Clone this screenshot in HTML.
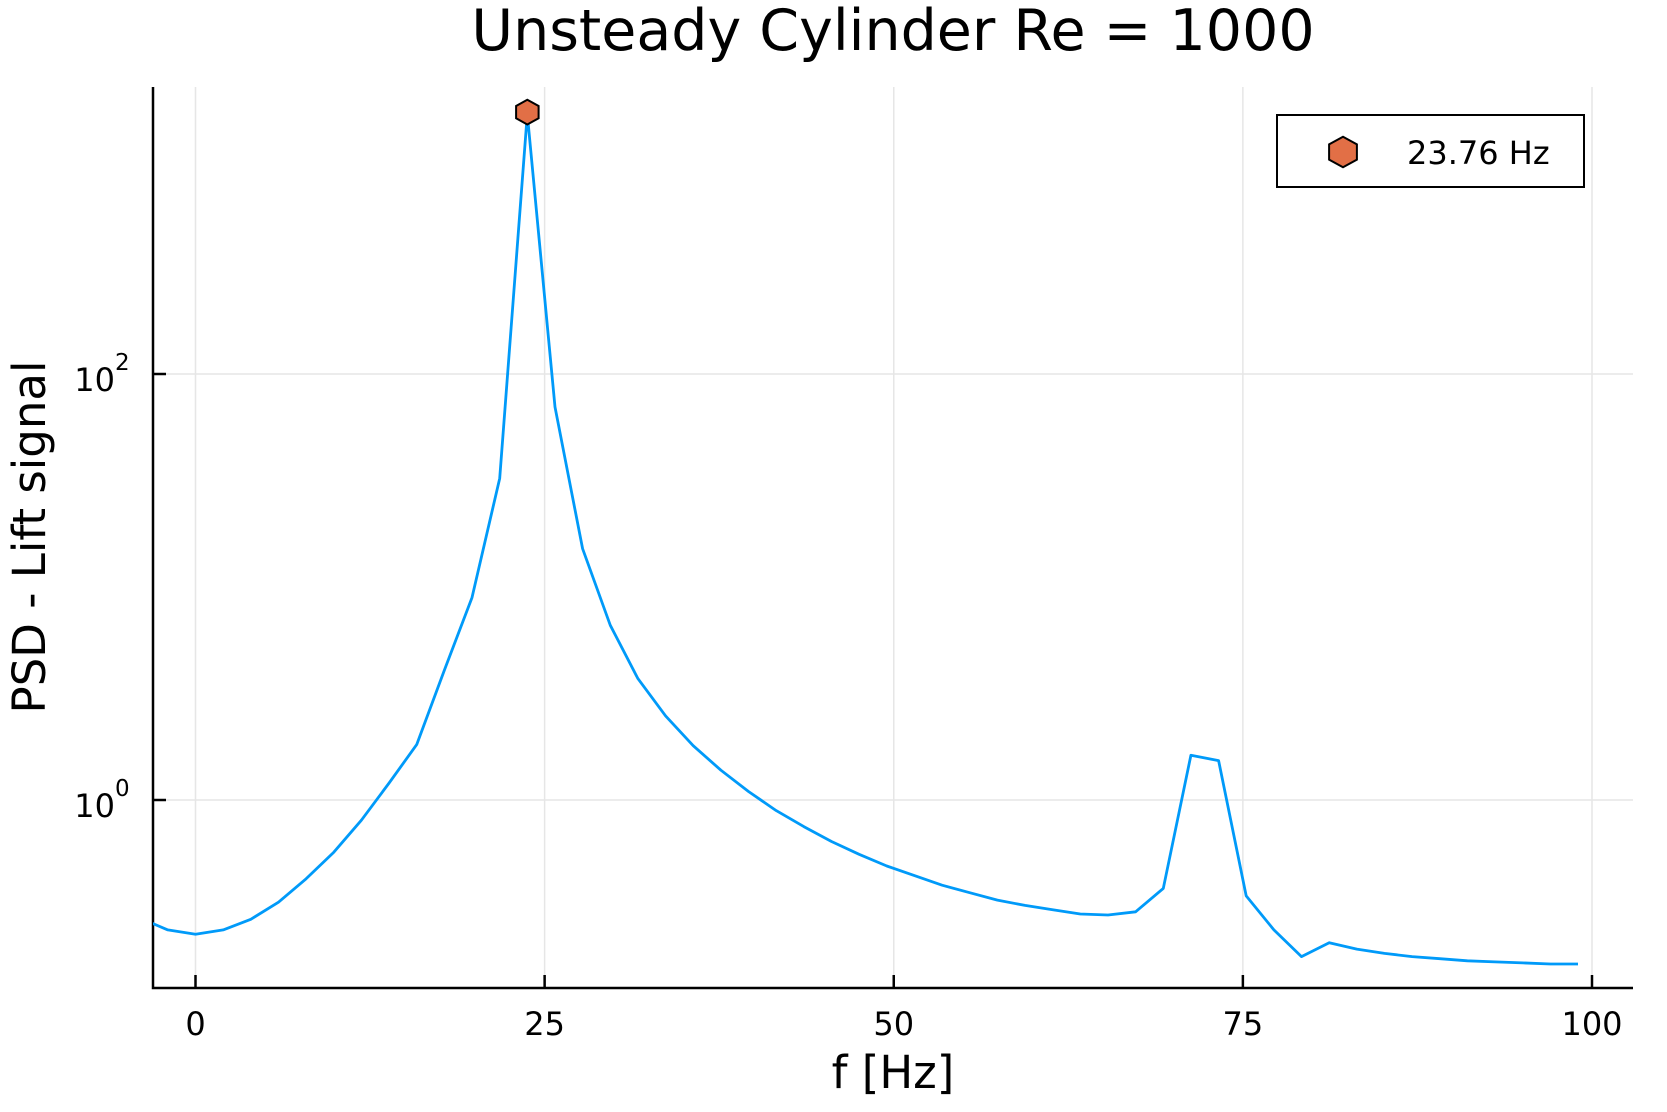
<!DOCTYPE html>
<html><head><meta charset="utf-8"><style>
html,body{margin:0;padding:0;background:#fff}
svg{display:block;font-family:"DejaVu Sans","Liberation Sans",sans-serif}
</style></head><body>
<svg id="chart" width="1667" height="1112" viewBox="0 0 1667 1112">
<text x="893" y="50" font-size="57" text-anchor="middle">Unsteady Cylinder Re = 1000</text>
<g id="grid"></g>
<g id="axes"></g>
<g id="series"></g>
<text x="893" y="1088" font-size="45" text-anchor="middle">f [Hz]</text>
<text transform="translate(45,537) rotate(-90)" font-size="45" text-anchor="middle">PSD - Lift signal</text>
<g>
<rect x="1277" y="115" width="307" height="72" fill="#fff" stroke="#000" stroke-width="2"/>
<polygon id="legmark" fill="#e26f46" stroke="#000" stroke-width="2"/>
<text x="1407" y="164" font-size="32">23.76 Hz</text>
</g>
</svg>
<script>
const freqStep = 1.98;
const kIndex = [-2,-1,0,1,2,3,4,5,6,7,8,9,10,11,12,13,14,15,16,17,18,19,20,21,22,23,24,25,26,27,28,29,30,31,32,33,34,35,36,37,38,39,40,41,42,43,44,45,46,47,48,49,50];
const log10Psd = [-0.555,-0.61,-0.63,-0.61,-0.56,-0.48,-0.37,-0.245,-0.095,0.08,0.26,0.61,0.95,1.51,3.22,1.845,1.18,0.82,0.57,0.395,0.255,0.14,0.04,-0.05,-0.125,-0.195,-0.255,-0.31,-0.355,-0.40,-0.435,-0.47,-0.495,-0.515,-0.535,-0.54,-0.525,-0.415,0.21,0.185,-0.45,-0.61,-0.735,-0.67,-0.70,-0.72,-0.735,-0.745,-0.755,-0.76,-0.765,-0.77,-0.77];
const peakFreq = [23.76];
const peakLog = [3.22];
const xTicks = [0,25,50,75,100];
const yTickExp = [0,2];

const NS="http://www.w3.org/2000/svg";
const L=153,R=1633,T=87,B=988;
const xs=f=>195.5+f*13.965;
const ys=lg=>800-lg*213;
function mk(tag,attrs,parent){const e=document.createElementNS(NS,tag);for(const k in attrs)e.setAttribute(k,attrs[k]);parent.appendChild(e);return e;}
const grid=document.getElementById('grid'),axes=document.getElementById('axes'),series=document.getElementById('series');
xTicks.forEach(t=>{
  const g=mk('line',{x1:xs(t),x2:xs(t),y1:T,y2:B,stroke:'#e6e6e6','stroke-width':1.5},grid);
  
  
  const tk=mk('line',{x1:xs(t),x2:xs(t),y1:B,y2:B-13,stroke:'#000','stroke-width':2.5},axes);
  
  
  const tx=mk('text',{x:xs(t),y:1035,'font-size':32,'text-anchor':'middle'},axes);
  tx.textContent=t;
  
  
});
yTickExp.forEach(e=>{
  const y=ys(e);
  const g=mk('line',{x1:L,x2:R,y1:y,y2:y,stroke:'#e6e6e6','stroke-width':1.5},grid);
  
  
  const tk=mk('line',{x1:L,x2:L+13,y1:y,y2:y,stroke:'#000','stroke-width':2.5},axes);
  
  
  const tx=mk('text',{x:115,y:y+17,'font-size':32,'text-anchor':'end'},axes);
  tx.textContent='10';
  
  
  const sp=mk('text',{x:115,y:y-4,'font-size':23},axes);
  sp.textContent=e;
  
  
});
const ax=mk('path',{d:`M${L},${T}V${B}H${R}`,fill:'none',stroke:'#000','stroke-width':2.5},axes);


const cp=mk('clipPath',{id:'clip'},series);mk('rect',{x:L,y:T-40,width:R-L,height:B-T+40},cp);
const pts=kIndex.map((k,i)=>xs(k*freqStep).toFixed(1)+','+ys(log10Psd[i]).toFixed(1)).join(' ');
const line=mk('polyline',{points:pts,fill:'none',stroke:'#009af9','stroke-width':2.8,'stroke-linejoin':'round','clip-path':'url(#clip)'},series);


function hex(cx,cy,r){let p=[];for(let i=0;i<6;i++){const a=Math.PI/3*i-Math.PI/2;p.push((cx+r*Math.cos(a)).toFixed(1)+','+(cy+r*0.95*Math.sin(a)).toFixed(1));}return p.join(' ');}
peakFreq.forEach((f,i)=>{
  const m=mk('polygon',{points:hex(xs(f),ys(peakLog[i])-2,13),fill:'#e26f46',stroke:'#000','stroke-width':2},series);
  
  
});
document.getElementById('legmark').setAttribute('points',hex(1343,152,16));
</script>
</body></html>
